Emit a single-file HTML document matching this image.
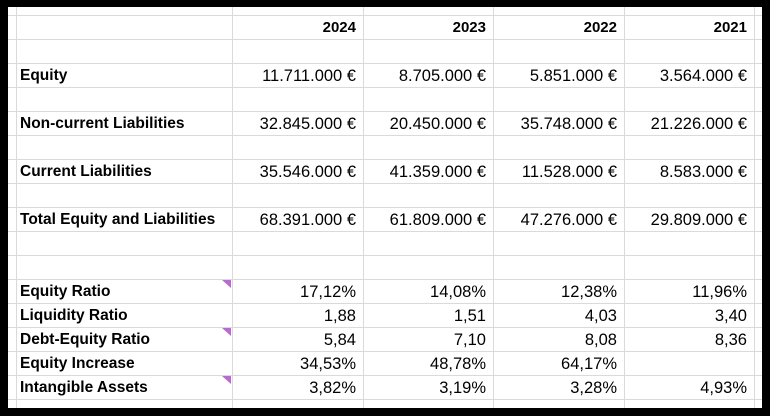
<!DOCTYPE html>
<html><head><meta charset="utf-8"><style>
body{margin:0;width:770px;height:416px;background:#000;overflow:hidden;font-family:"Liberation Sans",Arial,sans-serif;}
#sheet{position:absolute;left:8px;top:7px;width:754px;height:401px;background:#fff;overflow:hidden;}
.h{position:absolute;left:0;width:754px;height:1px;background:#dadada;}
.v{position:absolute;top:0;height:401px;width:1px;background:#dadada;}
.c{position:absolute;height:24px;line-height:24px;font-size:16.5px;color:#000;white-space:nowrap;}
.lab{font-size:15.5px;}
.yr{font-size:15px;}
.r{text-align:right;}
.b{font-weight:bold;}
.tri{position:absolute;width:0;height:0;border-top:8px solid #b86ad0;border-left:9px solid transparent;}
</style></head><body>
<div id="sheet"></div>
<script>
const sheet=document.getElementById('sheet');
const ox=8, oy=7;
const colX=[16,232,363,493,624,754];
const years=['2024','2023','2022','2021'];
const labels=['Equity','Non-current Liabilities','Current Liabilities','Total Equity and Liabilities','Equity Ratio','Liquidity Ratio','Debt-Equity Ratio','Equity Increase','Intangible Assets'];
const labelRows=[2,4,6,8,11,12,13,14,15];
const values=[
['11.711.000 €','8.705.000 €','5.851.000 €','3.564.000 €'],
['32.845.000 €','20.450.000 €','35.748.000 €','21.226.000 €'],
['35.546.000 €','41.359.000 €','11.528.000 €','8.583.000 €'],
['68.391.000 €','61.809.000 €','47.276.000 €','29.809.000 €'],
['17,12%','14,08%','12,38%','11,96%'],
['1,88','1,51','4,03','3,40'],
['5,84','7,10','8,08','8,36'],
['34,53%','48,78%','64,17%',''],
['3,82%','3,19%','3,28%','4,93%']];
const commentRows=[11,13,15];
for(let i=0;i<17;i++){const d=document.createElement('div');d.className='h';d.style.top=(15+24*i-oy)+'px';

sheet.appendChild(d);}
colX.forEach(x=>{const d=document.createElement('div');d.className='v';d.style.left=(x-ox)+'px';

sheet.appendChild(d);});
function rowTop(r){return 15+24*r-oy+1;}
years.forEach((y,j)=>{const d=document.createElement('div');d.className='c r b yr';d.textContent=y;
d.style.top=rowTop(0)+'px';d.style.left=(colX[j+1]-ox)+'px';d.style.width=(colX[j+2]-colX[j+1]-7)+'px';

sheet.appendChild(d);});
labels.forEach((l,i)=>{const d=document.createElement('div');d.className='c b lab';d.textContent=l;
d.style.top=rowTop(labelRows[i])+'px';d.style.left=(colX[0]-ox+4)+'px';

sheet.appendChild(d);
values[i].forEach((v,j)=>{const e=document.createElement('div');e.className='c r';e.textContent=v;
e.style.top=rowTop(labelRows[i])+'px';e.style.left=(colX[j+1]-ox)+'px';e.style.width=(colX[j+2]-colX[j+1]-7)+'px';

sheet.appendChild(e);});});
commentRows.forEach(r=>{const t=document.createElement('div');t.className='tri';t.style.top=(rowTop(r))+'px';t.style.left=(232-ox-10)+'px';

sheet.appendChild(t);});
</script>
</body></html>
